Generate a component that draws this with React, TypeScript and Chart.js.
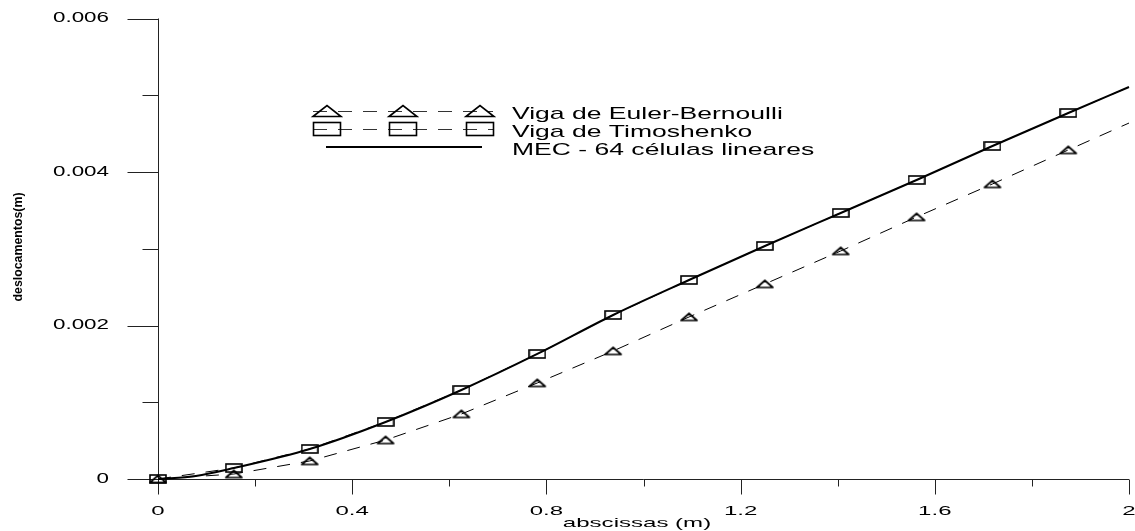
import React, { useEffect, useRef } from 'react';
import { Chart, registerables } from 'chart.js';

Chart.register(...registerables);

// ---- data ----
const abscissas = [0, 0.15625, 0.3125, 0.46875, 0.625, 0.78125, 0.9375, 1.09375, 1.25, 1.40625, 1.5625, 1.71875, 1.875, 2.0];
const eulerBernoulli = [0, 0.000065, 0.000235, 0.000508, 0.000847, 0.001251, 0.001668, 0.002111, 0.002541, 0.002971, 0.003414, 0.003844, 0.004287, 0.004638];
const timoshenko = [0, 0.000143, 0.000391, 0.000743, 0.00116, 0.001629, 0.002137, 0.002593, 0.003036, 0.003466, 0.003896, 0.004339, 0.004769, 0.005107];
const mecAbscissas = [0, 0.078, 0.15625, 0.3125, 0.46875, 0.625, 0.78125, 0.9375, 1.09375, 1.25, 1.40625, 1.5625, 1.71875, 1.875, 2.0];
const mecValues = [0, 0.00004, 0.000143, 0.000391, 0.000743, 0.00116, 0.001629, 0.002137, 0.002593, 0.003036, 0.003466, 0.003896, 0.004339, 0.004769, 0.005107];
const markerShown = [1, 1, 1, 1, 1, 1, 1, 1, 1, 1, 1, 1, 1, 0];

const xMajorTicks = [0, 0.4, 0.8, 1.2, 1.6, 2];
const xMinorTicks = [0.2, 0.6, 1.0, 1.4, 1.8];
const xTickLabels = ['0', '0.4', '0.8', '1.2', '1.6', '2'];
const yMajorTicks = [0, 0.002, 0.004, 0.006];
const yMinorTicks = [0.001, 0.003, 0.005];
const yTickLabels = ['0', '0.002', '0.004', '0.006'];

const legendLabels = ['Viga de Euler-Bernoulli', 'Viga de Timoshenko', 'MEC - 64 células lineares'];
const xTitle = 'abscissas (m)';
const yTitle = 'deslocamentos(m)';

const FONT = '"Liberation Sans", Arial, sans-serif';

function makeRectMarker(w: number, h: number, lw: number) {
  const c = document.createElement('canvas');
  c.width = w + 2;
  c.height = h + 2;
  const ctx = c.getContext('2d')!;
  ctx.strokeStyle = '#000';
  ctx.lineWidth = lw;
  ctx.strokeRect(1, 1, w, h);
  return c;
}

function makeTriMarker(w: number, h: number, lw: number) {
  const c = document.createElement('canvas');
  c.width = w + 4;
  c.height = h + 4;
  const ctx = c.getContext('2d')!;
  ctx.strokeStyle = '#000';
  ctx.lineWidth = lw;
  ctx.lineJoin = 'round';
  ctx.beginPath();
  ctx.moveTo(2, h + 2);
  ctx.lineTo(w / 2 + 2, 2);
  ctx.lineTo(w + 2, h + 2);
  ctx.closePath();
  ctx.stroke();
  return c;
}

function stretchText(ctx: CanvasRenderingContext2D, text: string, x: number, y: number, font: string, sx: number, align: CanvasTextAlign, baseline: CanvasTextBaseline) {
  ctx.save();
  ctx.font = font;
  ctx.translate(x, y);
  ctx.scale(sx, 1);
  ctx.textAlign = align;
  ctx.textBaseline = baseline;
  ctx.fillStyle = '#000';
  ctx.fillText(text, 0, 0);
  ctx.restore();
}

const axesPlugin = {
  id: 'customAxes',
  beforeDatasetsDraw(chart: any) {
    const ctx: CanvasRenderingContext2D = chart.ctx;
    const xs = chart.scales.x;
    const ys = chart.scales.y;
    const x0 = Math.round(xs.getPixelForValue(0)) + 0.5;
    const y0 = Math.round(ys.getPixelForValue(0)) + 0.5;
    const xEnd = xs.getPixelForValue(2);
    const yTop = ys.getPixelForValue(0.006);
    ctx.save();
    ctx.strokeStyle = '#222';
    ctx.lineWidth = 1;
    ctx.beginPath();
    ctx.moveTo(x0, yTop);
    ctx.lineTo(x0, y0);
    ctx.moveTo(x0, y0);
    ctx.lineTo(xEnd, y0);
    yMajorTicks.forEach((v) => {
      const py = Math.round(ys.getPixelForValue(v)) + 0.5;
      ctx.moveTo(x0 - 31, py);
      ctx.lineTo(x0, py);
    });
    yMinorTicks.forEach((v) => {
      const py = Math.round(ys.getPixelForValue(v)) + 0.5;
      ctx.moveTo(x0 - 16, py);
      ctx.lineTo(x0, py);
    });
    xMajorTicks.forEach((v) => {
      const px = Math.round(xs.getPixelForValue(v)) + 0.5;
      ctx.moveTo(px, y0);
      ctx.lineTo(px, y0 + 15);
    });
    xMinorTicks.forEach((v) => {
      const px = Math.round(xs.getPixelForValue(v)) + 0.5;
      ctx.moveTo(px, y0);
      ctx.lineTo(px, y0 + 7);
    });
    ctx.stroke();
    ctx.restore();

    yMajorTicks.forEach((v, i) => {
      stretchText(ctx, yTickLabels[i], 109, ys.getPixelForValue(v), `14px ${FONT}`, 1.6, 'right', 'middle');
    });
    xMajorTicks.forEach((v, i) => {
      stretchText(ctx, xTickLabels[i], xs.getPixelForValue(v), 515, `12px ${FONT}`, 2.0, 'center', 'alphabetic');
    });

    stretchText(ctx, xTitle, 637, 527, `13px ${FONT}`, 1.85, 'center', 'alphabetic');
    ctx.save();
    ctx.font = `bold 13px ${FONT}`;
    const w = ctx.measureText(yTitle).width;
    ctx.translate(18, 247);
    ctx.rotate(-Math.PI / 2);
    ctx.scale(109 / w, 1);
    ctx.textAlign = 'center';
    ctx.textBaseline = 'middle';
    ctx.fillStyle = '#000';
    ctx.fillText(yTitle, 0, 0);
    ctx.restore();
  },
  afterDraw(chart: any) {
    const ctx: CanvasRenderingContext2D = chart.ctx;
    const rows = [111, 129, 147];
    const lineStart = 313;
    const lineEnd = 493;
    const markerX = [327, 403, 480];
    ctx.save();
    ctx.strokeStyle = '#333';
    ctx.lineWidth = 1;
    ctx.setLineDash([14, 11]);
    ctx.beginPath();
    ctx.moveTo(lineStart, rows[0] + 0.5);
    ctx.lineTo(lineEnd, rows[0] + 0.5);
    ctx.moveTo(lineStart, rows[1] + 0.5);
    ctx.lineTo(lineEnd, rows[1] + 0.5);
    ctx.stroke();
    ctx.setLineDash([]);
    ctx.strokeStyle = '#000';
    ctx.lineWidth = 1.6;
    markerX.forEach((mx) => {
      ctx.beginPath();
      ctx.moveTo(mx - 14, rows[0] + 5.5);
      ctx.lineTo(mx, rows[0] - 5.5);
      ctx.lineTo(mx + 14, rows[0] + 5.5);
      ctx.closePath();
      ctx.stroke();
      ctx.strokeRect(mx - 13.5, rows[1] - 6.5, 27, 13);
    });
    ctx.lineWidth = 2;
    ctx.beginPath();
    ctx.moveTo(326, rows[2]);
    ctx.lineTo(482, rows[2]);
    ctx.stroke();
    ctx.restore();
    rows.forEach((ry, i) => {
      stretchText(ctx, legendLabels[i], 512, ry + 7.5, `17px ${FONT}`, 1.56, 'left', 'alphabetic');
    });
  },
};

export default function App() {
  const canvasRef = useRef<HTMLCanvasElement | null>(null);

  useEffect(() => {
    const canvas = canvasRef.current;
    if (!canvas) return;
    const tri = makeTriMarker(16, 7, 1.7);
    const rect = makeRectMarker(16, 8, 1.6);
    const chart = new Chart(canvas, {
      type: 'line',
      data: {
        datasets: [
          {
            label: legendLabels[0],
            data: abscissas.map((x, i) => ({ x, y: eulerBernoulli[i] })),
            borderColor: '#000',
            borderWidth: 1,
            borderDash: [13, 11],
            pointStyle: tri as any,
            pointRadius: markerShown.map((m) => (m ? 4 : 0)),
            fill: false,
            clip: false as any,
            tension: 0,
          },
          {
            label: legendLabels[1],
            data: abscissas.map((x, i) => ({ x, y: timoshenko[i] })),
            borderColor: '#000',
            borderWidth: 1,
            borderDash: [13, 11],
            pointStyle: rect as any,
            pointRadius: markerShown.map((m) => (m ? 4 : 0)),
            fill: false,
            clip: false as any,
            tension: 0,
          },
          {
            label: legendLabels[2],
            data: mecAbscissas.map((x, i) => ({ x, y: mecValues[i] })),
            borderColor: '#000',
            borderWidth: 2,
            pointRadius: 0,
            fill: false,
            clip: false as any,
            cubicInterpolationMode: 'monotone',
          },
        ],
      },
      options: {
        animation: false,
        responsive: false,
        events: [],
        layout: { padding: { left: 158, right: 6, top: 18.5, bottom: 52 } },
        scales: {
          x: { type: 'linear', min: 0, max: 2, display: false },
          y: { type: 'linear', min: 0, max: 0.006, display: false },
        },
        plugins: {
          legend: { display: false },
          tooltip: { enabled: false },
        },
      },
      plugins: [axesPlugin],
    });
    return () => chart.destroy();
  }, []);

  return (
    <div style={{ position: 'fixed', left: 0, top: 0, width: 1135, height: 531, background: '#fff' }}>
      <canvas ref={canvasRef} width={1135} height={531} />
    </div>
  );
}
